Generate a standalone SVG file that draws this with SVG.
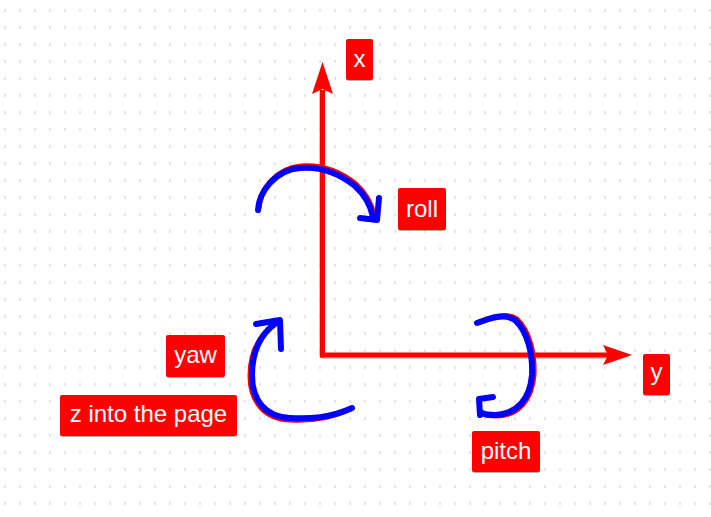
<svg xmlns="http://www.w3.org/2000/svg" width="711" height="517" viewBox="0 0 711 517">
  <style>
    .lbl-bg { fill: #ff0000; }
    .lbl-sh { fill: #8a8a8a; opacity: 0.7; }
    .lbl-tx { fill: #ffffff; font-family: "Liberation Sans", Arial, sans-serif; font-size: 24px; text-anchor: middle; }
    .axis { stroke: #ff0000; stroke-width: 5; fill: none; }
    .axis-sh { stroke: #9a9a9a; stroke-width: 5; fill: none; opacity: 0.5; }
    .head { fill: #ff0000; }
    .ink-red { stroke: #ff0000; stroke-width: 5; fill: none; stroke-linecap: round; stroke-linejoin: round; }
    .ink-blue { stroke: #0000ff; stroke-width: 6; fill: none; stroke-linecap: round; stroke-linejoin: round; }
  </style>
  <defs>
    <pattern id="dots" patternUnits="userSpaceOnUse" x="0" y="0" width="15" height="17">
      <rect x="4" y="9" width="2" height="3" fill="#e6e6e6"/>
    </pattern>
  </defs>
  <rect width="711" height="517" fill="#ffffff"/>
  <rect width="711" height="517" fill="url(#dots)"/>

  <g id="connectors">
    <!-- axes -->
    <g id="axis-x">
      <line class="axis-sh" x1="321.5" y1="92" x2="321.5" y2="356.5"/>
      <line class="axis" x1="322.5" y1="90" x2="322.5" y2="357.5"/>
      <polygon class="head" points="322.5,62 333,94 322.5,89 312,94"/>
    </g>
    <g id="axis-y">
      <line class="axis-sh" x1="322" y1="356.5" x2="608" y2="356.5"/>
      <line class="axis" x1="320" y1="355" x2="610" y2="355"/>
      <polygon class="head" points="632,355 603,345 608,355 603,365"/>
    </g>
    <!-- roll rotation -->
    <g id="roll-arrow">
      <path class="ink-red" d="M259,208 C260,190 276,168 301,166 C323,164 341,172 356,184 C367,194 372,205 374,215"/>
      <path class="ink-blue" d="M258,210 C259,192 275,170 300,168 C322,166 340,174 355,186 C366,196 371,207 373,217"/>
      <path class="ink-blue" d="M379,198 L377,220 L360,218"/>
    </g>
    <!-- yaw rotation -->
    <g id="yaw-arrow">
      <path class="ink-red" d="M275,324 C261,334 250,351 250,376 C250,401 264,419 290,420 C310,421 330,419 351,409"/>
      <path class="ink-blue" d="M276,323 C262,333 252,350 252,375 C252,400 265,417 290,418 C310,419 330,418 352,408"/>
      <path class="ink-blue" d="M256,324 L280,320 L281,349"/>
    </g>
    <!-- pitch rotation -->
    <g id="pitch-arrow">
      <path class="ink-red" d="M479,322 C492,317 507,312 517,319 C530,331 535,355 534,375 C532,399 519,416 496,416 C489,416 485,415 483,414"/>
      <path class="ink-blue" d="M477,323 C490,318 505,313 515,320 C528,332 533,355 532,375 C530,398 518,414 495,415 C488,415 484,414 482,413"/>
      <path class="ink-blue" d="M493,397 L479,399 L480,415"/>
    </g>
  </g>

  <g id="label-x">
    <rect class="lbl-sh" x="346" y="40" width="27" height="41" rx="3"/>
    <rect class="lbl-bg" x="346" y="39" width="27" height="41" rx="2"/>
    <text class="lbl-tx" x="359.5" y="67">x</text>
  </g>
  <g id="label-roll">
    <rect class="lbl-sh" x="398" y="189" width="48" height="42" rx="3"/>
    <rect class="lbl-bg" x="398" y="188" width="48" height="42" rx="2"/>
    <text class="lbl-tx" x="422" y="217">roll</text>
  </g>
  <g id="label-yaw">
    <rect class="lbl-sh" x="166" y="336" width="59" height="42" rx="3"/>
    <rect class="lbl-bg" x="166" y="335" width="59" height="42" rx="2"/>
    <text class="lbl-tx" x="195.5" y="363">yaw</text>
  </g>
  <g id="label-z">
    <rect class="lbl-sh" x="60" y="396" width="177" height="41" rx="3"/>
    <rect class="lbl-bg" x="60" y="395" width="177" height="41" rx="2"/>
    <text class="lbl-tx" x="148.5" y="422">z into the page</text>
  </g>
  <g id="label-y">
    <rect class="lbl-sh" x="643" y="355" width="27" height="41" rx="3"/>
    <rect class="lbl-bg" x="643" y="354" width="27" height="41" rx="2"/>
    <text class="lbl-tx" x="656.5" y="380">y</text>
  </g>
  <g id="label-pitch">
    <rect class="lbl-sh" x="472" y="432" width="68" height="41" rx="3"/>
    <rect class="lbl-bg" x="472" y="431" width="68" height="41" rx="2"/>
    <text class="lbl-tx" x="506" y="459">pitch</text>
  </g>
</svg>
